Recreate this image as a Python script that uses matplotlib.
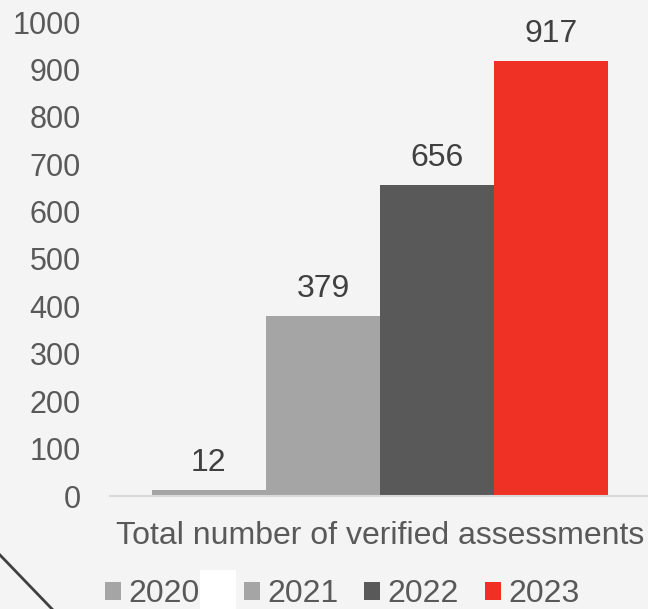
import matplotlib.pyplot as plt
from matplotlib.patches import Rectangle
from matplotlib.lines import Line2D

plt.rcParams['font.family'] = ['Liberation Sans', 'DejaVu Sans']

years = ['2020', '2021', '2022', '2023']
values = [12, 379, 656, 917]
colors = ['#a5a5a5', '#a5a5a5', '#595959', '#ee3124']
category = 'Total number of verified assessments'
yticks = [0, 100, 200, 300, 400, 500, 600, 700, 800, 900, 1000]

W, H = 648, 609
fig = plt.figure(figsize=(W / 100, H / 100), dpi=100)
fig.patch.set_facecolor('#f4f4f4')

ax = fig.add_axes([110 / W, (H - 496) / H, 538 / W, 474 / H])
ax.set_facecolor('#f4f4f4')

bars = []
for i, (yr, v, c) in enumerate(zip(years, values, colors)):
    b = ax.bar(i, v, width=1.0, color=c, label=yr, zorder=2)
    bars.append(b)
    ax.annotate(str(v), (i, v), xytext=(0, 13.7), textcoords='offset points',
                ha='center', va='baseline', fontsize=23, color='#404040')

ax.set_xlim(-0.868, 3.852)
ax.set_ylim(0, 1000)
ax.set_yticks(yticks)
ax.tick_params(axis='y', length=0, pad=21, labelsize=22, labelcolor='#595959')
ax.set_xticks([1.5])
ax.set_xticklabels([category])
ax.tick_params(axis='x', length=0, pad=18, labelsize=23, labelcolor='#595959')
for s in ['top', 'right', 'left']:
    ax.spines[s].set_visible(False)
ax.spines['bottom'].set_color('#d9d9d9')
ax.spines['bottom'].set_linewidth(1.5)

# white block in the legend row
fig.patches.append(Rectangle((200 / W, 0), 36 / W, 39 / H, transform=fig.transFigure,
                             facecolor='white', edgecolor='none'))
# decorative diagonal line
fig.lines.append(Line2D([0, 52 / W], [(H - 555) / H, 0], transform=fig.transFigure,
                        color='#404040', lw=2))

leg_kw = dict(frameon=False, fontsize=23, handlelength=0.5, handleheight=0.5,
              handletextpad=0.22, labelcolor='#595959', borderpad=0, borderaxespad=0)
fig.legend(handles=[bars[0]], labels=[years[0]], loc='center left',
           bbox_to_anchor=(105 / W, (H - 594) / H), **leg_kw)
fig.legend(handles=bars[1:], labels=years[1:], loc='center left', ncol=3,
           columnspacing=0.82, bbox_to_anchor=(244 / W, (H - 594) / H), **leg_kw)

fig.savefig('out.png', dpi=100, facecolor=fig.get_facecolor())
